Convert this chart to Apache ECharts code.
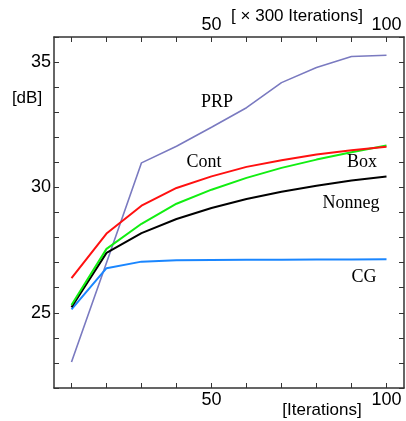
<!DOCTYPE html>
<html>
<head>
<meta charset="utf-8">
<script src="https://cdn.jsdelivr.net/npm/echarts@6/dist/echarts.min.js"></script>
<style>
  html, body { margin: 0; padding: 0; background: #fff; }
  #chart { width: 406px; height: 421px; }
</style>
</head>
<body>
<div id="chart"></div>
<script>
// iterations (x axis)
var iters = [10, 20, 30, 40, 50, 60, 70, 80, 90, 100];
// PSNR values in dB
var prp    = [23.04, 27.0, 30.98, 31.64, 32.40, 33.18, 34.18, 34.78, 35.22, 35.27];
var cont   = [26.38, 28.16, 29.27, 29.98, 30.44, 30.82, 31.08, 31.31, 31.48, 31.62];
var box    = [25.31, 27.55, 28.55, 29.35, 29.91, 30.38, 30.78, 31.11, 31.40, 31.67];
var nonneg = [25.22, 27.39, 28.18, 28.74, 29.18, 29.54, 29.83, 30.07, 30.28, 30.44];
var cg     = [25.14, 26.78, 27.04, 27.10, 27.11, 27.12, 27.12, 27.13, 27.13, 27.14];
var xTicks = [10, 20, 30, 40, 50, 60, 70, 80, 90, 100];
var xLabels = [50, 100];

function pairs(ys) {
  return iters.map(function (x, i) { return [x, ys[i]]; });
}

var axisColor = '#333';
var tickFont = { color: '#000', fontFamily: 'Liberation Sans', fontSize: 18 };
var serif = 'Liberation Serif';

function xAxis(pos) {
  return {
    type: 'value', position: pos, min: 5, max: 105,
    axisLine: { show: true, onZero: false, lineStyle: { color: axisColor, width: 1.5 } },
    axisTick: { show: true, inside: true, length: 5, customValues: xTicks, lineStyle: { color: axisColor, width: 1 } },
    axisLabel: Object.assign({ customValues: xLabels, margin: 3 }, tickFont),
    splitLine: { show: false }
  };
}
function yAxis(pos, labels) {
  return {
    type: 'value', position: pos, min: 22, max: 36, interval: 1,
    axisLine: { show: true, onZero: false, lineStyle: { color: axisColor, width: 1.5 } },
    axisTick: { show: true, inside: true, length: 5, lineStyle: { color: axisColor, width: 1 } },
    axisLabel: Object.assign({
      show: labels, margin: 3,
      formatter: function (v) { return v % 5 === 0 ? String(v) : ''; }
    }, tickFont),
    splitLine: { show: false }
  };
}

function line(name, ys, color, width) {
  return {
    name: name, type: 'line', data: pairs(ys), symbol: 'none',
    xAxisIndex: 0, yAxisIndex: 0,
    lineStyle: { color: color, width: width }, animation: false
  };
}

function txt(x, y, s, font, size) {
  return {
    type: 'text', x: x, y: y,
    style: { text: s, fill: '#000', font: size + 'px "' + font + '"', align: 'center', verticalAlign: 'middle' }
  };
}

var chart = echarts.init(document.getElementById('chart'));
chart.setOption({
  animation: false,
  grid: { left: 54, right: 2, top: 37, bottom: 33 },
  xAxis: [xAxis('bottom'), xAxis('top')],
  yAxis: [yAxis('left', true), yAxis('right', false)],
  series: [
    line('PRP', prp, '#7a7ac0', 1.6),
    line('CG', cg, '#1a86ff', 2),
    line('Nonneg', nonneg, '#000000', 2),
    line('Box', box, '#11ee11', 2),
    line('Cont', cont, '#ff1010', 2)
  ],
  graphic: [
    txt(27, 98, '[dB]', 'Liberation Sans', 17),
    txt(322, 410, '[Iterations]', 'Liberation Sans', 17),
    txt(297, 16, '[ \u00d7 300 Iterations]', 'Liberation Sans', 17),
    txt(217, 102, 'PRP', serif, 18),
    txt(204, 162, 'Cont', serif, 18),
    txt(362, 162, 'Box', serif, 18),
    txt(351, 203, 'Nonneg', serif, 18),
    txt(364, 277, 'CG', serif, 18)
  ]
});
</script>
</body>
</html>
